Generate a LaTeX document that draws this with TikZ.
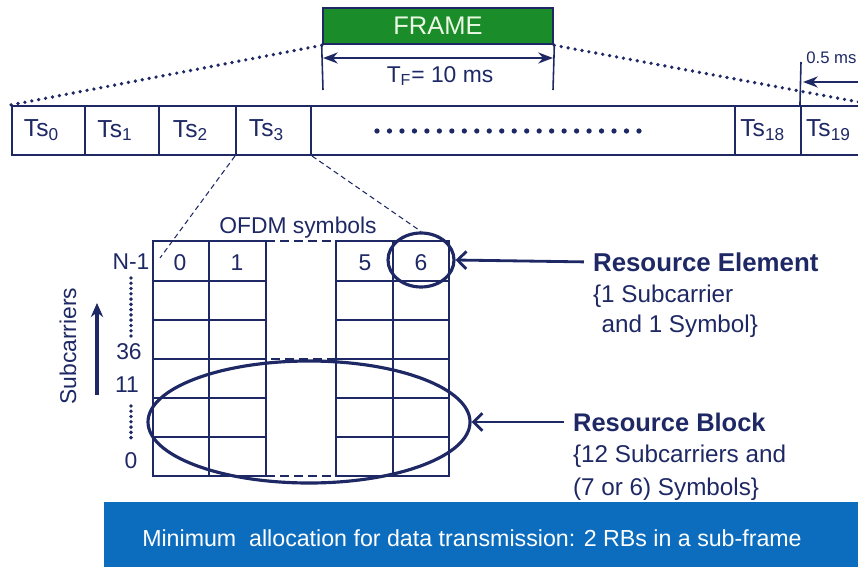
\documentclass[tikz,border=0pt]{standalone}
\usepackage{fontspec}
\setmainfont{Liberation Sans}
\usetikzlibrary{arrows.meta}
\usetikzlibrary{positioning}
\usetikzlibrary{shapes.geometric}

\definecolor{navy}{RGB}{30,40,100}
\definecolor{framegreen}{RGB}{26,140,42}
\definecolor{barblue}{RGB}{12,108,190}

\begin{document}
\begin{tikzpicture}[x=0.02cm, y=-0.02cm, >=Stealth, font=\fontsize{13}{15}\selectfont]
  \tikzset{slot/.style={rectangle, draw=navy, line width=1.2pt, minimum width=#1*0.02cm, minimum height=49*0.02cm, inner sep=0pt, text=navy, font=\fontsize{14}{16}\selectfont}}
  \tikzset{lbl/.style={text=navy, inner sep=1pt}}
  \tikzset{ring/.style={ellipse, draw=navy, line width=1.8pt, inner sep=0pt}}
  \tikzset{pointer/.style={draw=navy, line width=1.6pt, -{Straight Barb[length=5pt, width=10pt]}}}
  \tikzset{gridline/.style={draw=navy, line width=0.9pt}}
  \tikzset{gapline/.style={draw=navy, line width=1.4pt, dash pattern=on 5pt off 3pt}}
  \tikzset{zoomline/.style={draw=navy, line width=0.6pt, dash pattern=on 3pt off 2pt}}
  \tikzset{bigdots/.style={draw=navy, line width=2.1pt, line cap=round, dash pattern=on 0pt off 4pt}}

  \useasboundingbox (0,0) rectangle (858,567);
  \clip (0,0) rectangle (858,567);

  % the frame on top
  \node[rectangle, fill=framegreen, draw=navy, line width=1.5pt, minimum width=230*0.02cm, minimum height=36*0.02cm,
        text={rgb,255:red,235;green,248;blue,228}, font=\fontsize{14.5}{16}\selectfont] (frame) at (438,26) {FRAME};
  \coordinate (tfl) at (323,90);
  \coordinate (tfr) at (553,90);
  \draw[navy, line width=0.9pt] (frame.south west) -- (tfl);
  \draw[navy, line width=0.9pt] (frame.south east) -- (tfr);
  \draw[navy, line width=1.2pt, <->] (323,58) -- (553,58);
  \node[lbl, font=\fontsize{13}{15}\selectfont] (tf) at (440,76) {T\textsubscript{F}= 10 ms};

  % slots of the frame
  \node[slot=73]  (ts0)  at (48.5,130.5)  {\hspace{-8pt}Ts\textsubscript{0}};
  \node[slot=74]  (ts1)  at (122,130.5)   {\hspace{-8pt}Ts\textsubscript{1}};
  \node[slot=77]  (ts2)  at (197.5,130.5) {\hspace{-8pt}Ts\textsubscript{2}};
  \node[slot=75]  (ts3)  at (273.5,130.5) {\hspace{-8pt}Ts\textsubscript{3}};
  \node[slot=424] (tsx)  at (523,130.5)   {};
  \node[slot=66]  (ts18) at (768,130.5)   {\hspace{-6pt}Ts\textsubscript{18}};
  \node[slot=69]  (ts19) at (835.5,130.5) {\hspace{-8pt}Ts\textsubscript{19}};
  \draw[bigdots, line width=3pt, dash pattern=on 0pt off 7.1pt] (377,131) -- (640,131);

  % zoom from the frame to the slots
  \coordinate (slotend) at (880,106);
  \draw[bigdots] (frame.south west) -- (ts0.north west);
  \draw[bigdots] (frame.south east) -- (slotend);

  % duration of one slot
  \coordinate (slottop) at (801,62);
  \coordinate (halfr) at (870,82);
  \coordinate (halfl) at (803,82);
  \draw[navy, line width=0.9pt] (ts19.north west) -- (slottop);
  \draw[navy, line width=1.2pt, ->] (halfr) -- (halfl);
  \node[lbl, anchor=west, inner sep=0pt, font=\fontsize{9.5}{11}\selectfont] (half) at (806,58) {0.5 ms};

  % resource grid
  \draw[gridline] (153,241) rectangle (266,476);
  \draw[gridline] (336,241) rectangle (449,476);
  \draw[gridline] (209,241) -- (209,476);
  \draw[gridline] (393,241) -- (393,476);
  \foreach \y in {281,320,359,398,437} {
    \draw[gridline] (153,\y) -- (266,\y);
    \draw[gridline] (336,\y) -- (449,\y);
  }
  \draw[gapline] (266,241) -- (336,241);
  \draw[gapline] (243,359) -- (345,359);
  \draw[gapline] (266,476) -- (336,476);

  \node[lbl] (s0) at (180,263) {0};
  \node[lbl] (s1) at (237,263) {1};
  \node[lbl] (s5) at (365,263) {5};
  \node[lbl] (s6) at (421,263) {6};
  \node[lbl, font=\fontsize{13}{15}\selectfont] (ofdm) at (298,228) {OFDM symbols};

  % subcarrier axis
  \node[lbl] (nm1) at (131,262) {N-1};
  \node[lbl] (k36) at (129,352) {36};
  \node[lbl] (k11) at (127,385) {11};
  \node[lbl] (k0)  at (131,461) {0};
  \draw[bigdots, line width=2.2pt, dash pattern=on 0pt off 3pt] (131,278) -- (131,338);
  \draw[bigdots, line width=2.2pt, dash pattern=on 0pt off 3pt] (131,406) -- (131,440);
  \node[lbl, rotate=90] (sub) at (68,346) {Subcarriers};
  \coordinate (subbot) at (97,395);
  \coordinate (subtop) at (97,303);
  \draw[navy, line width=2pt, -{Stealth[length=8pt, width=7pt]}] (subbot) -- (subtop);

  % zoom from one slot to the grid
  \node[ring, minimum width=66*0.02cm, minimum height=54*0.02cm] (re) at (421,260) {};
  \node[ring, minimum width=322*0.02cm, minimum height=122*0.02cm] (rb) at (309,422) {};
  \coordinate (gridcorner) at (160,258);
  \draw[zoomline] (ts3.south west) -- (gridcorner);
  \draw[zoomline] (ts3.south east) -- (re.north);

  % labels on the right
  \node[lbl, anchor=west, font=\fontsize{14.7}{17}\selectfont\bfseries] (retitle) at (591,262) {Resource Element};
  \node[lbl, align=left, below=5.5pt of retitle.south west, anchor=north west, font=\fontsize{13.8}{17}\selectfont] (retext)
        {\{1 Subcarrier\\\hspace{0.35em}and 1 Symbol\}};
  \node[lbl, anchor=west, font=\fontsize{14.5}{17}\selectfont\bfseries] (rbtitle) at (571,422) {Resource Block};
  \node[lbl, align=left, below=5.5pt of rbtitle.south west, anchor=north west, font=\fontsize{13.8}{18.5}\selectfont] (rbtext)
        {\{12 Subcarriers and\\(7 or 6) Symbols\}};
  \draw[pointer, shorten <=4pt] (retitle.west) -- (re.east);
  \draw[pointer, shorten <=4pt] (rbtitle.west) -- (rb.east);

  % bottom bar
  \fill[barblue] (104,502) rectangle (870,567);
  \node[text=white, font=\fontsize{13.2}{15}\selectfont] (alloc) at (472,538)
        {Minimum\ \ allocation for data transmission: 2 RBs in a sub-frame};
\end{tikzpicture}
\end{document}
